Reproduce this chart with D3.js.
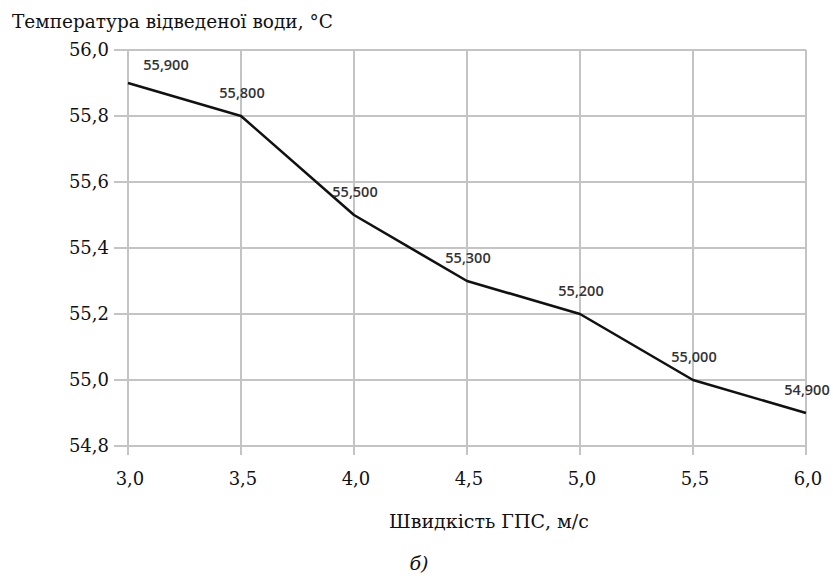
<!DOCTYPE html>
<html>
<head>
<meta charset="utf-8">
<script src="https://cdn.jsdelivr.net/npm/d3@7/dist/d3.min.js"></script>
<style>
  html, body { margin: 0; padding: 0; background: #fff; }
  svg { display: block; }
  .serif { font-family: "DejaVu Serif", serif; }
</style>
</head>
<body>
<svg id="chart" width="833" height="583"></svg>
<script>
const speeds = [3.0, 3.5, 4.0, 4.5, 5.0, 5.5, 6.0];
const temps = [55.9, 55.8, 55.5, 55.3, 55.2, 55.0, 54.9];
const xTicks = [3.0, 3.5, 4.0, 4.5, 5.0, 5.5, 6.0];
const yTicks = [54.8, 55.0, 55.2, 55.4, 55.6, 55.8, 56.0];
const yTitle = "Температура відведеної води, °С";
const xTitle = "Швидкість ГПС, м/с";
const caption = "б)";

(function () {
const svg = d3.select("#chart");
const pL = 128, pR = 806, pT = 50, pB = 446;
const x = d3.scaleLinear().domain([3.0, 6.0]).range([pL, pR]);
const y = d3.scaleLinear().domain([54.8, 56.0]).range([pB, pT]);
const fmt1 = d => d.toFixed(1).replace(".", ",");
const fmt3 = d => d.toFixed(3).replace(".", ",");
const grid = "#c4c4c4";

svg.append("g").selectAll("line").data(yTicks).join("line")
  .attr("x1", pL - 14).attr("x2", pR)
  .attr("y1", d => y(d)).attr("y2", d => y(d))
  .attr("stroke", grid).attr("stroke-width", 2);

svg.append("g").selectAll("line").data(xTicks).join("line")
  .attr("x1", d => x(d)).attr("x2", d => x(d))
  .attr("y1", pT).attr("y2", pB + 9)
  .attr("stroke", grid).attr("stroke-width", 2);

svg.append("g").selectAll("text").data(yTicks).join("text")
  .attr("class", "serif")
  .attr("x", pL - 19).attr("y", d => y(d)).attr("dy", "0.35em")
  .attr("text-anchor", "end")
  .attr("font-size", 18).attr("fill", "#111")
  .text(fmt1);

svg.append("g").selectAll("text").data(xTicks).join("text")
  .attr("class", "serif")
  .attr("x", d => x(d) + 2).attr("y", 485)
  .attr("text-anchor", "middle")
  .attr("font-size", 18).attr("fill", "#111")
  .text(fmt1);

const pts = speeds.map((s, i) => [s, temps[i]]);
svg.append("path").datum(pts)
  .attr("d", d3.line().x(d => x(d[0])).y(d => y(d[1])))
  .attr("fill", "none").attr("stroke", "#111").attr("stroke-width", 2.6)
  .attr("stroke-linejoin", "round");

svg.append("g").selectAll("text").data(pts).join("text")
  .attr("x", (d, i) => x(d[0]) + (i === 0 ? 38 : 1))
  .attr("y", (d, i) => y(d[1]) - (i === 0 ? 13 : 18))
  .attr("text-anchor", "middle")
  .attr("font-family", "'Open Sans', sans-serif").attr("font-weight", 600)
  .attr("font-size", 14.5).attr("fill", "#333")
  .text(d => fmt3(d[1]));

svg.append("text").attr("class", "serif").attr("x", 12).attr("y", 28)
  .attr("font-size", 18.5).attr("fill", "#111")
  .text(yTitle);
svg.append("text").attr("class", "serif").attr("x", 489).attr("y", 528).attr("text-anchor", "middle")
  .attr("font-size", 19).attr("fill", "#111")
  .text(xTitle);
svg.append("text").attr("class", "serif").attr("x", 419).attr("y", 570).attr("text-anchor", "middle")
  .attr("font-size", 19).attr("font-style", "italic").attr("fill", "#111")
  .text(caption);
})();
</script>
</body>
</html>
